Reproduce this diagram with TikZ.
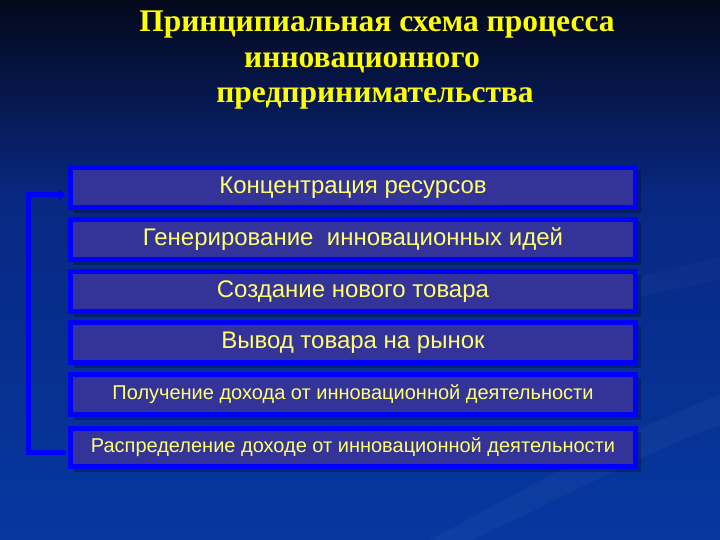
\documentclass[tikz,border=0pt]{standalone}
\usepackage{fontspec}
\setmainfont{Liberation Serif}
\newfontfamily\boxfont{Liberation Sans}
\usetikzlibrary{arrows.meta,calc}
\definecolor{bgtop}{RGB}{4,8,28}
\definecolor{bgmid}{RGB}{8,40,130}
\definecolor{bgbot}{RGB}{6,56,160}
\definecolor{boxfill}{RGB}{51,51,153}
\definecolor{boxline}{RGB}{0,0,255}
\definecolor{txtyellow}{RGB}{255,255,110}
\definecolor{ttlyellow}{RGB}{255,255,0}
\tikzset{
  stepbox/.style={draw=boxline, line width=5pt, fill=boxfill, minimum width=565pt,
    minimum height=40pt, inner sep=0pt, text=txtyellow, font=\boxfont\fontsize{24pt}{26pt}\selectfont},
  smallbox/.style={stepbox, font=\boxfont\fontsize{20pt}{22pt}\selectfont},
  ttl/.style={anchor=base, text=ttlyellow, font=\bfseries\fontsize{31.5pt}{34pt}\selectfont, inner sep=0pt},
  feedback/.style={draw=boxline, line width=5pt, line join=miter, -{Triangle[length=7pt,width=11pt]}}
}
\begin{document}
\begin{tikzpicture}[x=1pt,y=-1pt]
\useasboundingbox (0,0) rectangle (720,540);
\shade[top color=bgtop, bottom color=bgmid] (0,0) rectangle (720,200);
\shade[top color=bgmid, bottom color=bgbot] (0,199.5) rectangle (720,540);
% faint swooshes
\fill[white, opacity=0.03] (430,540) .. controls (560,470) and (650,420) .. (720,395) -- (720,425) .. controls (650,450) and (560,500) .. (470,540) -- cycle;
\fill[white, opacity=0.025] (560,300) .. controls (620,280) and (680,265) .. (720,258) -- (720,280) .. controls (680,288) and (620,300) .. (580,315) -- cycle;
% title
\node[ttl] (t1) at (377,32) {Принципиальная схема процесса};
\node[ttl] (t2) at (362,68) {инновационного};
\node[ttl] (t3) at (375,103) {предпринимательства};
% shadows of boxes
\foreach \cy/\h in {187.5/40,239.5/40,291.5/40,342.5/40,394.5/40,447.5/38}{
  \fill[black, opacity=0.25] (353-282.5+3,\cy-\h/2+3) rectangle (353+282.5+5.5,\cy+\h/2+5.5);
}
% boxes
\node[stepbox] (b1) at (353,187.5) {Концентрация ресурсов};
\node[stepbox] (b2) at (353,239.5) {Генерирование\ \ инновационных идей};
\node[stepbox] (b3) at (353,291.5) {Создание нового товара};
\node[stepbox] (b4) at (353,342.5) {Вывод товара на рынок};
\node[smallbox] (b5) at (353,394.5) {Получение дохода от инновационной деятельности};
\node[smallbox, minimum height=38pt] (b6) at (353,447.5) {Распределение доходе от инновационной деятельности};
% feedback loop
\coordinate (fb) at ($(b6.west)+(-2.5,4.5)$);
\coordinate (ft) at ($(b1.west)+(-2.5,7.5)$);
\draw[feedback] (fb) -- (28.5,452) -- (28.5,195) -- (ft);
\end{tikzpicture}
\end{document}
